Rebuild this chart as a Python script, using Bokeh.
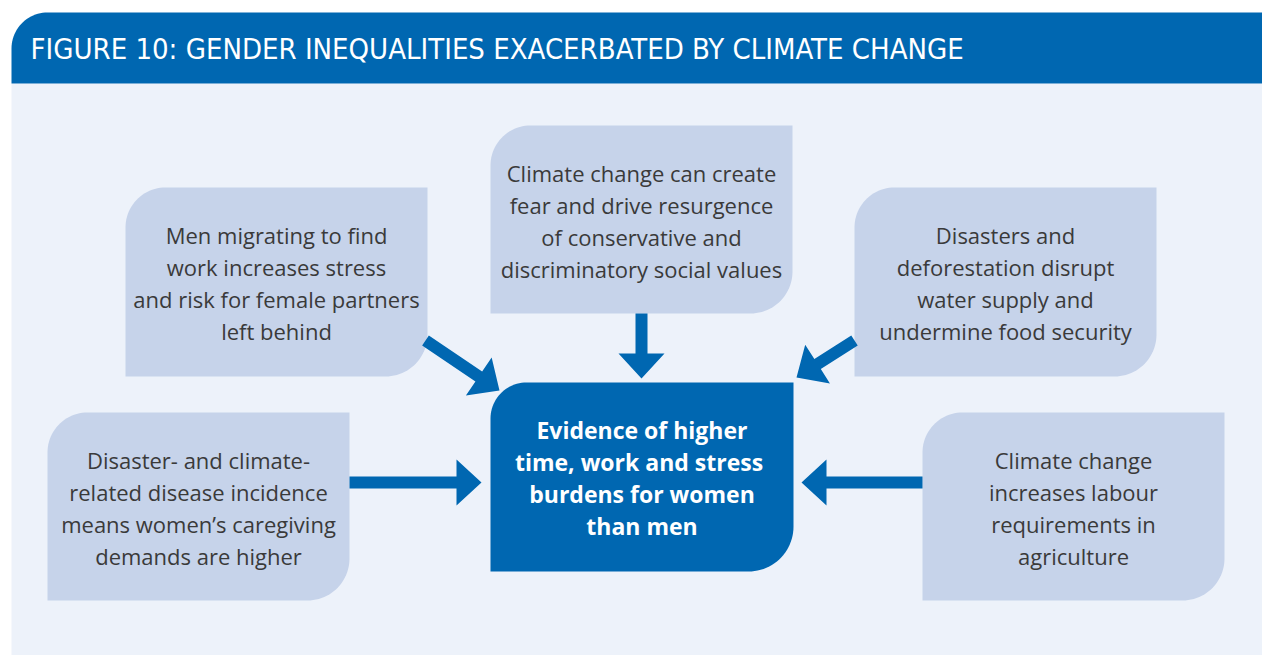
import numpy as np
from bokeh.plotting import figure
from bokeh.models import Range1d
from bokeh.core.properties import value
from bokeh.embed import file_html
from bokeh.resources import INLINE

# ---------------- content ----------------
TITLE = "FIGURE 10: GENDER INEQUALITIES EXACERBATED BY CLIMATE CHANGE"
CAUSES = [
    ["Men migrating to find", "work increases stress", "and risk for female partners", "left behind"],
    ["Climate change can create", "fear and drive resurgence", "of conservative and", "discriminatory social values"],
    ["Disasters and", "deforestation disrupt", "water supply and", "undermine food security"],
    ["Disaster- and climate-", "related disease incidence", "means women\u2019s caregiving", "demands are higher"],
    ["Climate change", "increases labour", "requirements in", "agriculture"],
]
OUTCOME = ["Evidence of higher", "time,  work and stress", "burdens for women", "than men"]

# ---------------- layout (page pixel coords, y down) ----------------
CAUSE_BOXES = [(125, 187, 427, 376), (490, 125, 792, 313), (854, 187, 1156, 376),
               (47, 412, 349, 600), (922, 412, 1224, 600)]
CENTER_BOX = (490, 382, 793, 571)
ARROWS = [((641, 313), (641, 378)), ((425, 340), (499, 390)), ((854, 340), (796, 377)),
          ((349, 482), (481, 482)), ((922, 482), (801, 482))]

BLUE = "#0067b1"
LIGHT_BG = "#edf2fa"
BOX_FILL = "#c6d3ea"
TEXT_DARK = "#3a3a3a"
LINE_STEP = 32
TITLE_FONT = "'DejaVu Sans Condensed', Roboto, sans-serif"

def rbox(l, t, r, b, rtl, rbr, n=24):
    xs, ys = [l], [b]
    if rtl > 0:
        th = np.linspace(np.pi, 1.5 * np.pi, n)
        xs += list(l + rtl + rtl * np.cos(th)); ys += list(t + rtl + rtl * np.sin(th))
    else:
        xs.append(l); ys.append(t)
    xs.append(r); ys.append(t)
    if rbr > 0:
        th = np.linspace(0, 0.5 * np.pi, n)
        xs += list(r - rbr + rbr * np.cos(th)); ys += list(b - rbr + rbr * np.sin(th))
    else:
        xs.append(r); ys.append(b)
    return xs, ys

def arrow_poly(start, tip, sw=12, hl=25, hw=46):
    s = np.array(start, float); t = np.array(tip, float)
    d = (t - s) / np.linalg.norm(t - s)
    nvec = np.array([-d[1], d[0]])
    base = t - d * hl
    pts = [s + nvec * sw / 2, base + nvec * sw / 2, base + nvec * hw / 2, t,
           base - nvec * hw / 2, base - nvec * sw / 2, s - nvec * sw / 2]
    return [p[0] for p in pts], [p[1] for p in pts]

W, H = 1262, 655
p = figure(width=W, height=H, x_range=Range1d(0, W), y_range=Range1d(H, 0),
           output_backend="svg", toolbar_location=None, min_border=0)
p.axis.visible = False
p.grid.visible = False
p.outline_line_color = None
p.background_fill_color = "white"
p.border_fill_color = "white"

# background panel and title bar
p.quad(left=11, right=1262, top=83, bottom=655, fill_color=LIGHT_BG, line_color=None)
tx, ty = rbox(11, 12, 1262, 83, 36, 0)
p.patch(tx, ty, fill_color=BLUE, line_color=None)
p.text(x=[30], y=[48], text=[TITLE], text_color="white", text_font=value(TITLE_FONT),
       text_font_size="29px", text_baseline="middle", text_align="left")

# cause boxes
bx = []; by = []
for (l, t, r, b) in CAUSE_BOXES:
    xs, ys = rbox(l, t, r, b, 40, 42)
    bx.append(xs); by.append(ys)
p.patches(bx, by, fill_color=BOX_FILL, line_color=None)

# centre box
cx_, cy_ = rbox(*CENTER_BOX, 36, 45)
p.patch(cx_, cy_, fill_color=BLUE, line_color=None)

# arrows
ax = []; ay = []
for s, t in ARROWS:
    xs, ys = arrow_poly(s, t)
    ax.append(xs); ay.append(ys)
p.patches(ax, ay, fill_color=BLUE, line_color=None)

# texts
def lines_xy(box, lines):
    l, t, r, b = box
    cx = (l + r) / 2; cy = (t + b) / 2 + 1
    n = len(lines)
    return [cx] * n, [cy + (i - (n - 1) / 2) * LINE_STEP for i in range(n)]

for box, lines in zip(CAUSE_BOXES, CAUSES):
    xs, ys = lines_xy(box, lines)
    p.text(x=xs, y=ys, text=lines, text_color=TEXT_DARK, text_font=value("Open Sans"),
           text_font_size="22px", text_align="center", text_baseline="middle")

xs, ys = lines_xy(CENTER_BOX, OUTCOME)
p.text(x=xs, y=ys, text=OUTCOME, text_color="white", text_font=value("Open Sans"),
       text_font_size="23px", text_font_style="bold", text_align="center", text_baseline="middle")

open("out.html", "w").write(file_html(p, INLINE))
